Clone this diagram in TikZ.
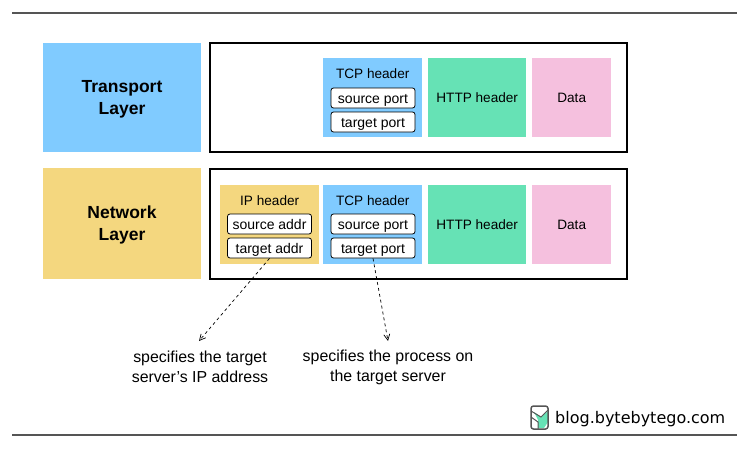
\documentclass[tikz,border=0pt]{standalone}
\usepackage{fontspec}
\setmainfont{Liberation Sans}
\newfontfamily\blogfont{DejaVu Sans}
\usetikzlibrary{arrows.meta}
\definecolor{tcpblue}{HTML}{80CBFF}
\definecolor{ipyellow}{HTML}{F4D77F}
\definecolor{httpgreen}{HTML}{66E2B5}
\definecolor{datapink}{HTML}{F5C0DE}
\definecolor{rulegray}{HTML}{555555}
\tikzset{
  layerbox/.style={anchor=north west,inner sep=0pt,minimum width=158pt},
  layername/.style={inner sep=0pt,font=\fontsize{17.5}{22}\selectfont\bfseries,align=center},
  framebox/.style={anchor=north west,inner sep=0pt,draw=black,line width=2.2pt,minimum width=417.4pt},
  headerbox/.style={anchor=north west,inner sep=0pt,minimum width=98pt,minimum height=79pt,text height=10pt,text depth=0pt,font=\fontsize{13.6}{15}\selectfont},
  titledbox/.style={headerbox,text height=20pt,text depth=59pt,minimum width=99pt},
  fieldbox/.style={inner sep=0pt,draw=black,fill=white,line width=0.8pt,rounded corners=2.5pt,minimum width=84pt,minimum height=20pt,text height=10pt,text depth=0pt,font=\fontsize{14}{15}\selectfont},
  notelabel/.style={align=center,font=\fontsize{15.9}{20}\selectfont},
  pointer/.style={draw=black,line width=0.7pt,dash pattern=on 3pt off 3pt,-{Straight Barb[length=6pt,width=6pt]}},
  rule/.style={draw=rulegray,line width=1.8pt}
}
\begin{document}
\begin{tikzpicture}[x=1pt,y=-1pt]
  \useasboundingbox (0,0) rectangle (752,455);

  % Rules at top and bottom
  \coordinate (topl) at (12,13);
  \coordinate (topr) at (737,13);
  \coordinate (botl) at (12,435);
  \coordinate (botr) at (737,435);
  \draw [rule] (topl) -- (topr);
  \draw [rule] (botl) -- (botr);

  % Layer names
  \node [layerbox,fill=tcpblue,minimum height=109pt] (transport) at (43,43) {};
  \node [layerbox,fill=ipyellow,minimum height=111pt] (network) at (43,168) {};
  \node [layername] (transportname) at (122,99.5) {Transport\\Layer};
  \node [layername] (networkname) at (122,224.5) {Network\\Layer};

  % Frames
  \node [framebox,minimum height=109pt] (transportframe) at (208.6,42) {};
  \node [framebox,minimum height=110pt] (networkframe) at (208.6,168) {};

  % Transport layer packet
  \node [titledbox,fill=tcpblue] (tcpa) at (323,58) {TCP header};
  \node [headerbox,fill=httpgreen] (httpa) at (428,58) {HTTP header};
  \node [headerbox,fill=datapink,minimum width=79pt] (dataa) at (532,58) {Data};
  \node [fieldbox] (sourceporta) at (373,98) {source port};
  \node [fieldbox] (targetporta) at (373,122) {target port};

  % Network layer packet
  \node [titledbox,fill=ipyellow] (ipb) at (220,185) {IP header};
  \node [titledbox,fill=tcpblue] (tcpb) at (323,185) {TCP header};
  \node [headerbox,fill=httpgreen] (httpb) at (428,185) {HTTP header};
  \node [headerbox,fill=datapink,minimum width=79pt] (datab) at (532,185) {Data};
  \node [fieldbox] (sourceaddr) at (269.5,224) {source addr};
  \node [fieldbox] (targetaddr) at (269.5,248) {target addr};
  \node [fieldbox] (sourceportb) at (373,224) {source port};
  \node [fieldbox] (targetportb) at (373,248) {target port};

  % Notes and pointers
  \node [notelabel] (addrnote) at (200,367) {specifies the target\\server\symbol{"0027}s IP address};
  \node [notelabel] (portnote) at (388,367) {specifies the process on\\the target server};
  \coordinate (addrend) at (199,341);
  \coordinate (portend) at (388,341);
  \draw [pointer] (targetaddr.south) -- (addrend);
  \draw [pointer] (targetportb.south) -- (portend);

  % Logo and address
  \draw [fill=httpgreen,draw=none] (534,412) -- (541,417) -- (548,411) -- (548,422) -- (544,428) -- (538,428) -- (538,420) -- cycle;
  \draw [draw=rulegray,line width=1.5pt,rounded corners=2.5pt] (531,406) rectangle (548,429);
  \draw [draw=rulegray,line width=1pt] (531,411) -- (541,417) -- (548,410);
  \draw [draw=rulegray,line width=1pt] (531,417) -- (538,422) -- (538,429);
  \node [anchor=west,inner sep=0pt,font=\blogfont\fontsize{16}{18}\selectfont] (blogname) at (555,419) {blog.bytebytego.com};
\end{tikzpicture}
\end{document}
